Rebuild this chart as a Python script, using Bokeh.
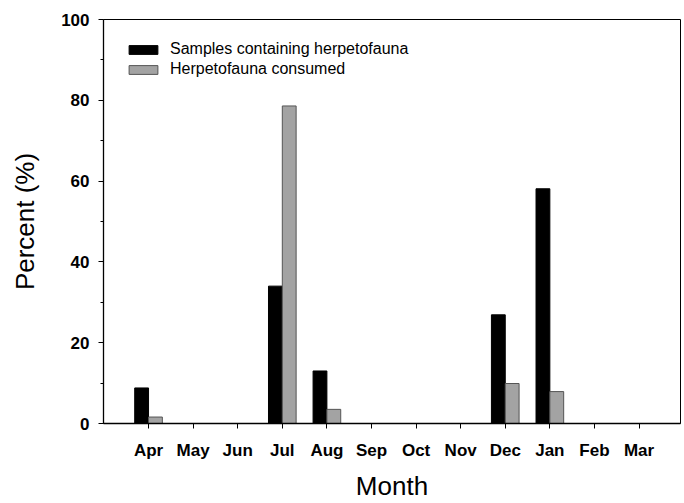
from bokeh.plotting import figure
from bokeh.models import (ColumnDataSource, FixedTicker, Range1d, Legend, LegendItem)
from bokeh.transform import dodge
from bokeh.embed import file_html
from bokeh.resources import INLINE

months = ["Apr", "May", "Jun", "Jul", "Aug", "Sep", "Oct", "Nov", "Dec", "Jan", "Feb", "Mar"]
samples_containing = [8.8, 0, 0, 34, 13, 0, 0, 0, 26.9, 58.1, 0, 0]
herp_consumed = [1.6, 0, 0, 78.6, 3.5, 0, 0, 0, 9.9, 7.9, 0, 0]
y_ticks = [0, 20, 40, 60, 80, 100]
y_minor = [10, 30, 50, 70, 90]

pos = list(range(1, len(months) + 1))
src = ColumnDataSource(dict(x=pos, a=samples_containing, b=herp_consumed))

FONT = "Liberation Sans"

p = figure(width=684, height=503, output_backend="svg", toolbar_location=None,
           x_range=Range1d(-0.01, 12.93), y_range=Range1d(0, 100),
           min_border_left=103, min_border_right=4, min_border_top=19, min_border_bottom=80)

r1 = p.vbar(x=dodge("x", -0.155), top="a", width=0.31, source=src,
            fill_color="black", line_color="black", line_width=1)
r2 = p.vbar(x=dodge("x", 0.155), top="b", width=0.31, source=src,
            fill_color="#a3a3a3", line_color="#555555", line_width=1)

p.xgrid.visible = False
p.ygrid.visible = False
p.outline_line_color = "black"
p.outline_line_width = 1
p.background_fill_color = "white"
p.border_fill_color = "white"

xa = p.xaxis[0]
xa.ticker = FixedTicker(ticks=pos)
xa.major_label_overrides = {i: m for i, m in zip(pos, months)}
xa.major_tick_out = 5
xa.major_tick_in = 0
xa.minor_tick_out = 0
xa.minor_tick_in = 0
xa.major_label_standoff = 12
xa.major_label_text_font = FONT
xa.major_label_text_font_style = "bold"
xa.major_label_text_font_size = "17px"
xa.major_label_text_color = "black"
xa.axis_label = "Month"
xa.axis_label_text_font = FONT
xa.axis_label_text_font_style = "normal"
xa.axis_label_text_font_size = "26px"
xa.axis_label_text_color = "black"
xa.axis_label_standoff = 8
xa.axis_line_color = "black"
xa.axis_line_width = 1.3

ya = p.yaxis[0]
ya.ticker = FixedTicker(ticks=y_ticks, minor_ticks=y_minor)
ya.major_tick_out = 5
ya.major_tick_in = 0
ya.minor_tick_out = 3
ya.minor_tick_in = 0
ya.major_label_standoff = 9
ya.major_label_text_font = FONT
ya.major_label_text_font_style = "bold"
ya.major_label_text_font_size = "17px"
ya.major_label_text_color = "black"
ya.axis_label = "Percent (%)"
ya.axis_label_text_font = FONT
ya.axis_label_text_font_style = "normal"
ya.axis_label_text_font_size = "26px"
ya.axis_label_text_color = "black"
ya.axis_label_standoff = 18
ya.axis_line_color = "black"
ya.axis_line_width = 1.3

legend = Legend(items=[LegendItem(label="Samples containing herpetofauna", renderers=[r1]),
                       LegendItem(label="Herpetofauna consumed", renderers=[r2])],
                location=(22, 344))
legend.glyph_width = 36
legend.glyph_height = 11
legend.label_height = 20
legend.label_standoff = 9
legend.spacing = 0
legend.padding = 0
legend.margin = 0
legend.label_text_font = FONT
legend.label_text_font_size = "16px"
legend.label_text_color = "black"
legend.border_line_alpha = 0
legend.background_fill_alpha = 0
p.add_layout(legend, "center")

open("out.html", "w").write(file_html(p, INLINE))
